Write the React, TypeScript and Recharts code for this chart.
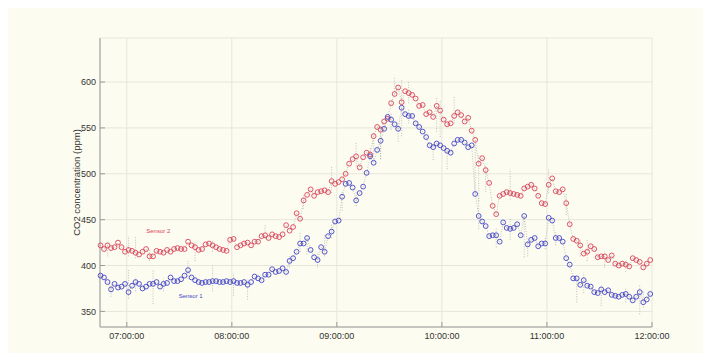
import {
  CartesianGrid,
  ErrorBar,
  Line,
  LineChart,
  ReferenceDot,
  XAxis,
  YAxis,
} from "recharts";

// markers every 2 minutes, starting 06:45
const START_MIN = 405;
const STEP_MIN = 2;

const SENSOR1 = [
  389, 387, 382, 374, 380, 376, 377, 380, 371, 378,
  382, 380, 375, 377, 380, 380, 382, 377, 380, 381,
  387, 383, 383, 385, 389, 395, 387, 384, 382, 381,
  382, 382, 383, 383, 382, 382, 383, 382, 383, 381,
  381, 382, 379, 382, 388, 386, 384, 390, 390, 396,
  393, 394, 397, 393, 405, 408, 415, 424, 424, 430,
  417, 409, 406, 420, 415, 432, 437, 448, 449, 475,
  489, 490, 485, 471, 479, 486, 501, 519, 512, 526,
  536, 549, 562, 559, 554, 549, 572, 565, 563, 563,
  555, 551, 546, 540, 531, 529, 533, 531, 528, 525,
  523, 533, 537, 537, 534, 529, 531, 478, 454, 448,
  443, 432, 433, 433, 426, 447, 441, 440, 441, 445,
  433, 454, 423, 428, 430, 421, 424, 424, 452, 449,
  430, 430, 426, 408, 401, 386, 386, 379, 384, 378,
  377, 371, 370, 374, 371, 373, 368, 367, 366, 368,
  369, 366, 362, 366, 371, 360, 363, 369,
];

const SENSOR2 = [
  422, 418, 422, 419, 420, 425, 420, 415, 417, 416,
  414, 412, 415, 418, 410, 410, 416, 415, 414, 417,
  415, 418, 419, 418, 418, 426, 422, 420, 417, 418,
  423, 424, 422, 420, 418, 417, 416, 428, 429, 420,
  422, 424, 425, 422, 426, 426, 432, 433, 430, 434,
  432, 431, 434, 444, 438, 442, 457, 451, 471, 477,
  483, 476, 480, 481, 482, 480, 492, 489, 491, 494,
  500, 511, 516, 519, 507, 518, 523, 521, 541, 551,
  548, 557, 560, 577, 587, 594, 578, 590, 588, 586,
  582, 574, 575, 565, 567, 562, 574, 569, 559, 554,
  555, 563, 567, 564, 557, 561, 547, 537, 511, 517,
  504, 490, 465, 456, 476, 478, 480, 479, 478, 477,
  476, 484, 486, 488, 484, 476, 468, 467, 488, 495,
  481, 480, 483, 468, 445, 429, 427, 422, 413, 415,
  421, 418, 409, 410, 410, 406, 411, 402, 400, 402,
  401, 399, 408, 406, 404, 398, 402, 406,
];

// raw-reading spikes: [minute of day, low, high]
const SPIKES1 = [
  [411, 366, 380], [421, 364, 396], [425, 372, 386], [435, 358, 396], [441, 372, 386],
  [455, 385, 405], [469, 372, 400], [481, 367, 392], [489, 363, 385], [513, 398, 410],
  [519, 415, 436], [523, 412, 432], [529, 398, 414], [533, 410, 434], [537, 430, 445],
  [543, 460, 480], [551, 465, 482], [565, 516, 552], [571, 548, 566], [575, 535, 555],
  [581, 555, 570], [595, 515, 533], [603, 505, 528], [621, 440, 475], [631, 420, 440],
  [639, 428, 452], [647, 409, 454], [649, 410, 426], [659, 418, 430], [665, 422, 436],
  [677, 360, 384], [681, 370, 392], [691, 356, 378], [705, 360, 375], [713, 347, 378],
  [715, 354, 372],
];

const SPIKES2 = [
  [409, 410, 425], [421, 410, 432], [425, 408, 432], [433, 405, 418], [459, 405, 425],
  [469, 415, 428], [499, 429, 445], [521, 462, 478], [537, 479, 508], [551, 508, 534],
  [559, 516, 528], [561, 516, 545], [565, 516, 552], [573, 588, 606], [577, 541, 602],
  [581, 577, 601], [597, 546, 583], [599, 540, 580], [607, 555, 584], [619, 479, 537],
  [621, 470, 520], [625, 480, 510], [639, 472, 505], [661, 479, 505], [671, 455, 478],
  [679, 410, 428], [683, 405, 428], [693, 398, 415], [705, 393, 406],
];

const X_TICKS = [420, 480, 540, 600, 660, 720];
const Y_TICKS = [350, 400, 450, 500, 550, 600];

const RED = "#dc4158";
const BLUE = "#4343c9";
const GRAY = "#a9a9a0";
const FONT = "'Liberation Sans', Arial, sans-serif";

const pad = (n: number) => String(n).padStart(2, "0");
const fmtTime = (m: number) => `${pad(Math.floor(m / 60))}:${pad(m % 60)}:00`;

const spikeAt = (spikes: number[][], t: number, v: number) => {
  const s = spikes.find((d) => d[0] === t);
  return s ? [Math.max(0, v - s[1]), Math.max(0, s[2] - v)] : [0, 0];
};

const data = SENSOR1.map((v, i) => {
  const t = START_MIN + i * STEP_MIN;
  return {
    t,
    s1: v,
    s2: SENSOR2[i],
    e1: spikeAt(SPIKES1, t, v),
    e2: spikeAt(SPIKES2, t, SENSOR2[i]),
  };
});

const tickStyle = { fontSize: 9, fill: "#333", fontFamily: FONT };

export default function App() {
  return (
    <div style={{ width: 703, height: 345, background: "#fcfcf0" }}>
      <LineChart
        width={703}
        height={345}
        data={data}
        margin={{ top: 30, right: 59, bottom: 6, left: 52 }}
      >
        <CartesianGrid stroke="#e6e6dc" />
        <XAxis
          type="number"
          dataKey="t"
          domain={[404.7, 720]}
          ticks={X_TICKS}
          tickFormatter={fmtTime}
          height={20}
          stroke="#9a9a9a"
          tick={tickStyle}
          tickSize={-5}
          tickMargin={11}
        />
        <YAxis
          type="number"
          domain={[333, 648]}
          ticks={Y_TICKS}
          width={40}
          stroke="#9a9a9a"
          tick={tickStyle}
          tickSize={-5}
          tickMargin={9}
          label={{
            value: "CO2 concentration (ppm)",
            angle: -90,
            position: "insideLeft",
            offset: 17,
            fill: "#333",
            fontSize: 9.5,
            fontFamily: FONT,
            style: { textAnchor: "middle" },
          }}
        />
        <Line
          dataKey="s2"
          stroke={GRAY}
          strokeWidth={0.7}
          strokeDasharray="1 1.5"
          dot={false}
          isAnimationActive={false}
        >
          <ErrorBar dataKey="e2" direction="y" width={0} stroke={GRAY} strokeWidth={0.7} strokeDasharray="1 1.5" />
        </Line>
        <Line
          dataKey="s1"
          stroke={GRAY}
          strokeWidth={0.7}
          strokeDasharray="1 1.5"
          dot={false}
          isAnimationActive={false}
        >
          <ErrorBar dataKey="e1" direction="y" width={0} stroke={GRAY} strokeWidth={0.7} strokeDasharray="1 1.5" />
        </Line>
        <Line
          dataKey="s2"
          stroke="none"
          dot={{ r: 2.4, stroke: RED, strokeWidth: 0.9, fill: "none" }}
          activeDot={false}
          isAnimationActive={false}
        />
        <Line
          dataKey="s1"
          stroke="none"
          dot={{ r: 2.4, stroke: BLUE, strokeWidth: 0.9, fill: "none" }}
          activeDot={false}
          isAnimationActive={false}
        />
        <ReferenceDot
          x={438}
          y={438}
          r={1}
          fill="none"
          stroke="none"
          label={{ value: "Sensor 2", fill: RED, fontSize: 6, position: "center", fontFamily: FONT }}
        />
        <ReferenceDot
          x={456.5}
          y={366.5}
          r={1}
          fill="none"
          stroke="none"
          label={{ value: "Sensor 1", fill: BLUE, fontSize: 6, position: "center", fontFamily: FONT }}
        />
      </LineChart>
    </div>
  );
}
